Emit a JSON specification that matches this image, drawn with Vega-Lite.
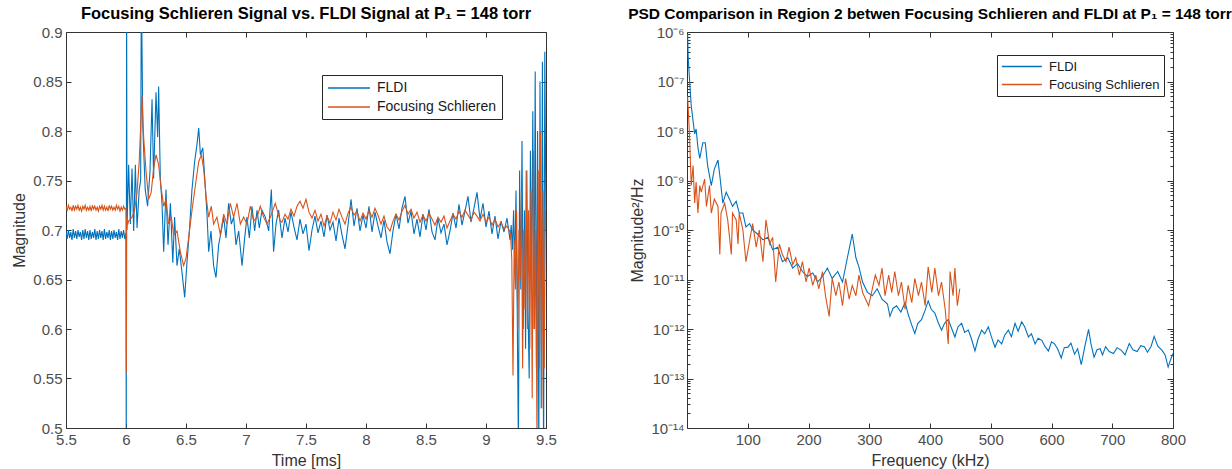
{
"$schema": "https://vega.github.io/schema/vega-lite/v6.json",
"background": "white",
"padding": {"left": 11, "top": 5, "right": 5, "bottom": 5},
"bounds": "flush",
"spacing": 141,
"config": {
  "font": "Liberation Sans",
  "view": {"stroke": "#333333", "strokeWidth": 1},
  "axis": {"domain": false, "grid": false, "tickSize": -5, "tickColor": "#333333", "tickWidth": 1, "labelFontSize": 15, "labelColor": "#4d4d4d", "labelPadding": 9, "titleFontSize": 16, "titleFontWeight": "normal", "titleColor": "#333333", "titlePadding": 5, "labelFlush": false, "labelOverlap": false},
  "title": {"fontSize": 16, "fontWeight": "bold", "color": "#000000", "offset": 3, "limit": 900, "anchor": "middle"}
},
"datasets": {
"sig": [
{"t":5.50,"v":0.699,"s":"FLDI"},{"t":5.51,"v":0.691,"s":"FLDI"},{"t":5.52,"v":0.700,"s":"FLDI"},{"t":5.53,"v":0.692,"s":"FLDI"},{"t":5.54,"v":0.698,"s":"FLDI"},{"t":5.55,"v":0.690,"s":"FLDI"},{"t":5.56,"v":0.701,"s":"FLDI"},{"t":5.57,"v":0.692,"s":"FLDI"},{"t":5.58,"v":0.699,"s":"FLDI"},{"t":5.59,"v":0.691,"s":"FLDI"},
{"t":5.60,"v":0.700,"s":"FLDI"},{"t":5.61,"v":0.693,"s":"FLDI"},{"t":5.62,"v":0.698,"s":"FLDI"},{"t":5.63,"v":0.690,"s":"FLDI"},{"t":5.64,"v":0.700,"s":"FLDI"},{"t":5.65,"v":0.691,"s":"FLDI"},{"t":5.66,"v":0.701,"s":"FLDI"},{"t":5.67,"v":0.692,"s":"FLDI"},{"t":5.68,"v":0.699,"s":"FLDI"},{"t":5.69,"v":0.690,"s":"FLDI"},
{"t":5.70,"v":0.700,"s":"FLDI"},{"t":5.71,"v":0.691,"s":"FLDI"},{"t":5.72,"v":0.698,"s":"FLDI"},{"t":5.73,"v":0.692,"s":"FLDI"},{"t":5.74,"v":0.701,"s":"FLDI"},{"t":5.75,"v":0.690,"s":"FLDI"},{"t":5.76,"v":0.699,"s":"FLDI"},{"t":5.77,"v":0.691,"s":"FLDI"},{"t":5.78,"v":0.700,"s":"FLDI"},{"t":5.79,"v":0.692,"s":"FLDI"},
{"t":5.80,"v":0.699,"s":"FLDI"},{"t":5.81,"v":0.690,"s":"FLDI"},{"t":5.82,"v":0.701,"s":"FLDI"},{"t":5.83,"v":0.691,"s":"FLDI"},{"t":5.84,"v":0.698,"s":"FLDI"},{"t":5.85,"v":0.692,"s":"FLDI"},{"t":5.86,"v":0.700,"s":"FLDI"},{"t":5.87,"v":0.690,"s":"FLDI"},{"t":5.88,"v":0.699,"s":"FLDI"},{"t":5.89,"v":0.691,"s":"FLDI"},
{"t":5.90,"v":0.700,"s":"FLDI"},{"t":5.91,"v":0.692,"s":"FLDI"},{"t":5.92,"v":0.698,"s":"FLDI"},{"t":5.93,"v":0.690,"s":"FLDI"},{"t":5.94,"v":0.701,"s":"FLDI"},{"t":5.95,"v":0.691,"s":"FLDI"},{"t":5.96,"v":0.699,"s":"FLDI"},{"t":5.97,"v":0.692,"s":"FLDI"},{"t":5.98,"v":0.700,"s":"FLDI"},{"t":5.99,"v":0.691,"s":"FLDI"},
{"t":6.000,"v":0.697,"s":"FLDI"},{"t":6.002,"v":0.45,"s":"FLDI"},{"t":6.005,"v":0.95,"s":"FLDI"},{"t":6.008,"v":0.700,"s":"FLDI"},{"t":6.022,"v":0.766,"s":"FLDI"},{"t":6.036,"v":0.706,"s":"FLDI"},{"t":6.050,"v":0.762,"s":"FLDI"},{"t":6.064,"v":0.699,"s":"FLDI"},{"t":6.078,"v":0.766,"s":"FLDI"},{"t":6.092,"v":0.702,"s":"FLDI"},
{"t":6.110,"v":0.741,"s":"FLDI"},{"t":6.122,"v":0.750,"s":"FLDI"},{"t":6.128,"v":0.95,"s":"FLDI"},{"t":6.140,"v":0.804,"s":"FLDI"},{"t":6.160,"v":0.741,"s":"FLDI"},{"t":6.180,"v":0.724,"s":"FLDI"},{"t":6.200,"v":0.759,"s":"FLDI"},{"t":6.217,"v":0.832,"s":"FLDI"},{"t":6.230,"v":0.752,"s":"FLDI"},{"t":6.250,"v":0.839,"s":"FLDI"},
{"t":6.264,"v":0.794,"s":"FLDI"},{"t":6.272,"v":0.845,"s":"FLDI"},{"t":6.286,"v":0.752,"s":"FLDI"},{"t":6.300,"v":0.727,"s":"FLDI"},{"t":6.314,"v":0.678,"s":"FLDI"},{"t":6.333,"v":0.741,"s":"FLDI"},{"t":6.350,"v":0.685,"s":"FLDI"},{"t":6.370,"v":0.727,"s":"FLDI"},{"t":6.390,"v":0.667,"s":"FLDI"},{"t":6.405,"v":0.713,"s":"FLDI"},
{"t":6.425,"v":0.664,"s":"FLDI"},{"t":6.444,"v":0.681,"s":"FLDI"},{"t":6.467,"v":0.657,"s":"FLDI"},{"t":6.489,"v":0.632,"s":"FLDI"},{"t":6.508,"v":0.667,"s":"FLDI"},{"t":6.528,"v":0.699,"s":"FLDI"},{"t":6.550,"v":0.741,"s":"FLDI"},{"t":6.572,"v":0.769,"s":"FLDI"},{"t":6.592,"v":0.787,"s":"FLDI"},{"t":6.606,"v":0.803,"s":"FLDI"},
{"t":6.620,"v":0.776,"s":"FLDI"},{"t":6.640,"v":0.783,"s":"FLDI"},{"t":6.655,"v":0.755,"s":"FLDI"},{"t":6.675,"v":0.716,"s":"FLDI"},{"t":6.689,"v":0.678,"s":"FLDI"},{"t":6.708,"v":0.699,"s":"FLDI"},{"t":6.730,"v":0.664,"s":"FLDI"},{"t":6.750,"v":0.652,"s":"FLDI"},{"t":6.772,"v":0.685,"s":"FLDI"},{"t":6.794,"v":0.699,"s":"FLDI"},
{"t":6.814,"v":0.713,"s":"FLDI"},{"t":6.833,"v":0.692,"s":"FLDI"},{"t":6.855,"v":0.727,"s":"FLDI"},{"t":6.878,"v":0.706,"s":"FLDI"},{"t":6.897,"v":0.713,"s":"FLDI"},{"t":6.917,"v":0.685,"s":"FLDI"},{"t":6.939,"v":0.699,"s":"FLDI"},{"t":6.967,"v":0.664,"s":"FLDI"},{"t":6.989,"v":0.692,"s":"FLDI"},{"t":7.008,"v":0.713,"s":"FLDI"},
{"t":7.028,"v":0.692,"s":"FLDI"},{"t":7.050,"v":0.724,"s":"FLDI"},{"t":7.072,"v":0.699,"s":"FLDI"},{"t":7.092,"v":0.720,"s":"FLDI"},{"t":7.111,"v":0.702,"s":"FLDI"},{"t":7.133,"v":0.720,"s":"FLDI"},{"t":7.161,"v":0.713,"s":"FLDI"},{"t":7.189,"v":0.699,"s":"FLDI"},{"t":7.211,"v":0.741,"s":"FLDI"},{"t":7.230,"v":0.678,"s":"FLDI"},
{"t":7.250,"v":0.706,"s":"FLDI"},{"t":7.272,"v":0.720,"s":"FLDI"},{"t":7.300,"v":0.692,"s":"FLDI"},{"t":7.325,"v":0.712,"s":"FLDI"},{"t":7.350,"v":0.698,"s":"FLDI"},{"t":7.375,"v":0.718,"s":"FLDI"},{"t":7.400,"v":0.703,"s":"FLDI"},{"t":7.425,"v":0.690,"s":"FLDI"},{"t":7.450,"v":0.711,"s":"FLDI"},{"t":7.475,"v":0.696,"s":"FLDI"},
{"t":7.500,"v":0.706,"s":"FLDI"},{"t":7.525,"v":0.679,"s":"FLDI"},{"t":7.550,"v":0.700,"s":"FLDI"},{"t":7.575,"v":0.714,"s":"FLDI"},{"t":7.600,"v":0.697,"s":"FLDI"},{"t":7.625,"v":0.709,"s":"FLDI"},{"t":7.650,"v":0.693,"s":"FLDI"},{"t":7.675,"v":0.715,"s":"FLDI"},{"t":7.700,"v":0.700,"s":"FLDI"},{"t":7.725,"v":0.708,"s":"FLDI"},
{"t":7.750,"v":0.689,"s":"FLDI"},{"t":7.775,"v":0.712,"s":"FLDI"},{"t":7.800,"v":0.695,"s":"FLDI"},{"t":7.825,"v":0.681,"s":"FLDI"},{"t":7.850,"v":0.705,"s":"FLDI"},{"t":7.875,"v":0.731,"s":"FLDI"},{"t":7.900,"v":0.704,"s":"FLDI"},{"t":7.925,"v":0.722,"s":"FLDI"},{"t":7.950,"v":0.699,"s":"FLDI"},{"t":7.975,"v":0.715,"s":"FLDI"},
{"t":8.000,"v":0.702,"s":"FLDI"},{"t":8.025,"v":0.724,"s":"FLDI"},{"t":8.050,"v":0.698,"s":"FLDI"},{"t":8.075,"v":0.718,"s":"FLDI"},{"t":8.100,"v":0.704,"s":"FLDI"},{"t":8.125,"v":0.692,"s":"FLDI"},{"t":8.150,"v":0.710,"s":"FLDI"},{"t":8.175,"v":0.688,"s":"FLDI"},{"t":8.200,"v":0.676,"s":"FLDI"},{"t":8.225,"v":0.699,"s":"FLDI"},
{"t":8.250,"v":0.716,"s":"FLDI"},{"t":8.275,"v":0.701,"s":"FLDI"},{"t":8.300,"v":0.722,"s":"FLDI"},{"t":8.325,"v":0.734,"s":"FLDI"},{"t":8.350,"v":0.707,"s":"FLDI"},{"t":8.375,"v":0.719,"s":"FLDI"},{"t":8.400,"v":0.696,"s":"FLDI"},{"t":8.425,"v":0.711,"s":"FLDI"},{"t":8.450,"v":0.693,"s":"FLDI"},{"t":8.475,"v":0.716,"s":"FLDI"},
{"t":8.500,"v":0.700,"s":"FLDI"},{"t":8.525,"v":0.721,"s":"FLDI"},{"t":8.550,"v":0.698,"s":"FLDI"},{"t":8.575,"v":0.690,"s":"FLDI"},{"t":8.600,"v":0.712,"s":"FLDI"},{"t":8.625,"v":0.697,"s":"FLDI"},{"t":8.650,"v":0.706,"s":"FLDI"},{"t":8.675,"v":0.685,"s":"FLDI"},{"t":8.700,"v":0.699,"s":"FLDI"},{"t":8.725,"v":0.717,"s":"FLDI"},
{"t":8.750,"v":0.702,"s":"FLDI"},{"t":8.775,"v":0.726,"s":"FLDI"},{"t":8.800,"v":0.705,"s":"FLDI"},{"t":8.825,"v":0.719,"s":"FLDI"},{"t":8.850,"v":0.734,"s":"FLDI"},{"t":8.875,"v":0.708,"s":"FLDI"},{"t":8.900,"v":0.722,"s":"FLDI"},{"t":8.925,"v":0.738,"s":"FLDI"},{"t":8.950,"v":0.711,"s":"FLDI"},{"t":8.975,"v":0.727,"s":"FLDI"},
{"t":9.000,"v":0.703,"s":"FLDI"},{"t":9.025,"v":0.719,"s":"FLDI"},{"t":9.050,"v":0.696,"s":"FLDI"},{"t":9.075,"v":0.714,"s":"FLDI"},{"t":9.100,"v":0.691,"s":"FLDI"},{"t":9.125,"v":0.709,"s":"FLDI"},{"t":9.150,"v":0.698,"s":"FLDI"},{"t":9.175,"v":0.712,"s":"FLDI"},{"t":9.200,"v":0.690,"s":"FLDI"},
{"t":9.210,"v":0.705,"s":"FLDI"},{"t":9.220,"v":0.680,"s":"FLDI"},{"t":9.230,"v":0.720,"s":"FLDI"},{"t":9.240,"v":0.660,"s":"FLDI"},{"t":9.250,"v":0.740,"s":"FLDI"},{"t":9.260,"v":0.620,"s":"FLDI"},{"t":9.270,"v":0.480,"s":"FLDI"},{"t":9.280,"v":0.760,"s":"FLDI"},{"t":9.290,"v":0.640,"s":"FLDI"},{"t":9.300,"v":0.790,"s":"FLDI"},
{"t":9.310,"v":0.600,"s":"FLDI"},{"t":9.320,"v":0.720,"s":"FLDI"},{"t":9.330,"v":0.580,"s":"FLDI"},{"t":9.340,"v":0.760,"s":"FLDI"},{"t":9.350,"v":0.620,"s":"FLDI"},{"t":9.360,"v":0.550,"s":"FLDI"},{"t":9.370,"v":0.780,"s":"FLDI"},{"t":9.380,"v":0.640,"s":"FLDI"},{"t":9.390,"v":0.820,"s":"FLDI"},{"t":9.400,"v":0.600,"s":"FLDI"},
{"t":9.410,"v":0.860,"s":"FLDI"},{"t":9.420,"v":0.560,"s":"FLDI"},{"t":9.430,"v":0.800,"s":"FLDI"},{"t":9.440,"v":0.470,"s":"FLDI"},{"t":9.450,"v":0.850,"s":"FLDI"},{"t":9.460,"v":0.520,"s":"FLDI"},{"t":9.470,"v":0.870,"s":"FLDI"},{"t":9.480,"v":0.460,"s":"FLDI"},{"t":9.490,"v":0.880,"s":"FLDI"},{"t":9.500,"v":0.700,"s":"FLDI"},
{"t":5.50,"v":0.724,"s":"Focusing Schlieren"},{"t":5.51,"v":0.720,"s":"Focusing Schlieren"},{"t":5.52,"v":0.725,"s":"Focusing Schlieren"},{"t":5.53,"v":0.721,"s":"Focusing Schlieren"},{"t":5.54,"v":0.723,"s":"Focusing Schlieren"},{"t":5.55,"v":0.719,"s":"Focusing Schlieren"},{"t":5.56,"v":0.725,"s":"Focusing Schlieren"},{"t":5.57,"v":0.720,"s":"Focusing Schlieren"},{"t":5.58,"v":0.724,"s":"Focusing Schlieren"},{"t":5.59,"v":0.721,"s":"Focusing Schlieren"},
{"t":5.60,"v":0.725,"s":"Focusing Schlieren"},{"t":5.61,"v":0.720,"s":"Focusing Schlieren"},{"t":5.62,"v":0.723,"s":"Focusing Schlieren"},{"t":5.63,"v":0.719,"s":"Focusing Schlieren"},{"t":5.64,"v":0.724,"s":"Focusing Schlieren"},{"t":5.65,"v":0.721,"s":"Focusing Schlieren"},{"t":5.66,"v":0.725,"s":"Focusing Schlieren"},{"t":5.67,"v":0.720,"s":"Focusing Schlieren"},{"t":5.68,"v":0.723,"s":"Focusing Schlieren"},{"t":5.69,"v":0.720,"s":"Focusing Schlieren"},
{"t":5.70,"v":0.724,"s":"Focusing Schlieren"},{"t":5.71,"v":0.719,"s":"Focusing Schlieren"},{"t":5.72,"v":0.725,"s":"Focusing Schlieren"},{"t":5.73,"v":0.721,"s":"Focusing Schlieren"},{"t":5.74,"v":0.724,"s":"Focusing Schlieren"},{"t":5.75,"v":0.720,"s":"Focusing Schlieren"},{"t":5.76,"v":0.723,"s":"Focusing Schlieren"},{"t":5.77,"v":0.719,"s":"Focusing Schlieren"},{"t":5.78,"v":0.724,"s":"Focusing Schlieren"},{"t":5.79,"v":0.721,"s":"Focusing Schlieren"},
{"t":5.80,"v":0.725,"s":"Focusing Schlieren"},{"t":5.81,"v":0.720,"s":"Focusing Schlieren"},{"t":5.82,"v":0.724,"s":"Focusing Schlieren"},{"t":5.83,"v":0.720,"s":"Focusing Schlieren"},{"t":5.84,"v":0.723,"s":"Focusing Schlieren"},{"t":5.85,"v":0.719,"s":"Focusing Schlieren"},{"t":5.86,"v":0.725,"s":"Focusing Schlieren"},{"t":5.87,"v":0.721,"s":"Focusing Schlieren"},{"t":5.88,"v":0.724,"s":"Focusing Schlieren"},{"t":5.89,"v":0.720,"s":"Focusing Schlieren"},
{"t":5.90,"v":0.723,"s":"Focusing Schlieren"},{"t":5.91,"v":0.720,"s":"Focusing Schlieren"},{"t":5.92,"v":0.725,"s":"Focusing Schlieren"},{"t":5.93,"v":0.721,"s":"Focusing Schlieren"},{"t":5.94,"v":0.724,"s":"Focusing Schlieren"},{"t":5.95,"v":0.719,"s":"Focusing Schlieren"},{"t":5.96,"v":0.723,"s":"Focusing Schlieren"},{"t":5.97,"v":0.720,"s":"Focusing Schlieren"},{"t":5.98,"v":0.724,"s":"Focusing Schlieren"},{"t":5.99,"v":0.721,"s":"Focusing Schlieren"},
{"t":6.000,"v":0.722,"s":"Focusing Schlieren"},{"t":6.003,"v":0.556,"s":"Focusing Schlieren"},{"t":6.006,"v":0.712,"s":"Focusing Schlieren"},{"t":6.012,"v":0.705,"s":"Focusing Schlieren"},{"t":6.022,"v":0.709,"s":"Focusing Schlieren"},{"t":6.050,"v":0.713,"s":"Focusing Schlieren"},{"t":6.072,"v":0.720,"s":"Focusing Schlieren"},{"t":6.092,"v":0.738,"s":"Focusing Schlieren"},{"t":6.110,"v":0.769,"s":"Focusing Schlieren"},{"t":6.133,"v":0.836,"s":"Focusing Schlieren"},
{"t":6.147,"v":0.794,"s":"Focusing Schlieren"},{"t":6.167,"v":0.759,"s":"Focusing Schlieren"},{"t":6.189,"v":0.731,"s":"Focusing Schlieren"},{"t":6.210,"v":0.738,"s":"Focusing Schlieren"},{"t":6.230,"v":0.762,"s":"Focusing Schlieren"},{"t":6.250,"v":0.776,"s":"Focusing Schlieren"},{"t":6.272,"v":0.766,"s":"Focusing Schlieren"},{"t":6.290,"v":0.745,"s":"Focusing Schlieren"},{"t":6.314,"v":0.724,"s":"Focusing Schlieren"},{"t":6.333,"v":0.731,"s":"Focusing Schlieren"},
{"t":6.355,"v":0.706,"s":"Focusing Schlieren"},{"t":6.378,"v":0.713,"s":"Focusing Schlieren"},{"t":6.397,"v":0.695,"s":"Focusing Schlieren"},{"t":6.425,"v":0.699,"s":"Focusing Schlieren"},{"t":6.453,"v":0.678,"s":"Focusing Schlieren"},{"t":6.480,"v":0.664,"s":"Focusing Schlieren"},{"t":6.500,"v":0.671,"s":"Focusing Schlieren"},{"t":6.522,"v":0.692,"s":"Focusing Schlieren"},{"t":6.550,"v":0.720,"s":"Focusing Schlieren"},{"t":6.578,"v":0.745,"s":"Focusing Schlieren"},
{"t":6.606,"v":0.769,"s":"Focusing Schlieren"},{"t":6.628,"v":0.776,"s":"Focusing Schlieren"},{"t":6.647,"v":0.762,"s":"Focusing Schlieren"},{"t":6.667,"v":0.734,"s":"Focusing Schlieren"},{"t":6.689,"v":0.713,"s":"Focusing Schlieren"},{"t":6.711,"v":0.724,"s":"Focusing Schlieren"},{"t":6.730,"v":0.706,"s":"Focusing Schlieren"},{"t":6.758,"v":0.713,"s":"Focusing Schlieren"},{"t":6.786,"v":0.695,"s":"Focusing Schlieren"},{"t":6.814,"v":0.716,"s":"Focusing Schlieren"},
{"t":6.842,"v":0.706,"s":"Focusing Schlieren"},{"t":6.869,"v":0.727,"s":"Focusing Schlieren"},{"t":6.897,"v":0.713,"s":"Focusing Schlieren"},{"t":6.925,"v":0.727,"s":"Focusing Schlieren"},{"t":6.953,"v":0.706,"s":"Focusing Schlieren"},{"t":6.980,"v":0.713,"s":"Focusing Schlieren"},{"t":7.008,"v":0.706,"s":"Focusing Schlieren"},{"t":7.036,"v":0.724,"s":"Focusing Schlieren"},{"t":7.064,"v":0.709,"s":"Focusing Schlieren"},{"t":7.092,"v":0.713,"s":"Focusing Schlieren"},
{"t":7.119,"v":0.724,"s":"Focusing Schlieren"},{"t":7.147,"v":0.713,"s":"Focusing Schlieren"},{"t":7.175,"v":0.706,"s":"Focusing Schlieren"},{"t":7.203,"v":0.713,"s":"Focusing Schlieren"},{"t":7.244,"v":0.727,"s":"Focusing Schlieren"},{"t":7.286,"v":0.709,"s":"Focusing Schlieren"},{"t":7.300,"v":0.708,"s":"Focusing Schlieren"},{"t":7.325,"v":0.716,"s":"Focusing Schlieren"},{"t":7.350,"v":0.711,"s":"Focusing Schlieren"},{"t":7.375,"v":0.721,"s":"Focusing Schlieren"},
{"t":7.400,"v":0.714,"s":"Focusing Schlieren"},{"t":7.425,"v":0.724,"s":"Focusing Schlieren"},{"t":7.450,"v":0.729,"s":"Focusing Schlieren"},{"t":7.475,"v":0.722,"s":"Focusing Schlieren"},{"t":7.500,"v":0.731,"s":"Focusing Schlieren"},{"t":7.525,"v":0.718,"s":"Focusing Schlieren"},{"t":7.550,"v":0.712,"s":"Focusing Schlieren"},{"t":7.575,"v":0.720,"s":"Focusing Schlieren"},{"t":7.600,"v":0.709,"s":"Focusing Schlieren"},{"t":7.625,"v":0.716,"s":"Focusing Schlieren"},
{"t":7.650,"v":0.704,"s":"Focusing Schlieren"},{"t":7.675,"v":0.714,"s":"Focusing Schlieren"},{"t":7.700,"v":0.707,"s":"Focusing Schlieren"},{"t":7.725,"v":0.718,"s":"Focusing Schlieren"},{"t":7.750,"v":0.710,"s":"Focusing Schlieren"},{"t":7.775,"v":0.721,"s":"Focusing Schlieren"},{"t":7.800,"v":0.713,"s":"Focusing Schlieren"},{"t":7.825,"v":0.706,"s":"Focusing Schlieren"},{"t":7.850,"v":0.717,"s":"Focusing Schlieren"},{"t":7.875,"v":0.723,"s":"Focusing Schlieren"},
{"t":7.900,"v":0.715,"s":"Focusing Schlieren"},{"t":7.925,"v":0.719,"s":"Focusing Schlieren"},{"t":7.950,"v":0.709,"s":"Focusing Schlieren"},{"t":7.975,"v":0.717,"s":"Focusing Schlieren"},{"t":8.000,"v":0.711,"s":"Focusing Schlieren"},{"t":8.025,"v":0.720,"s":"Focusing Schlieren"},{"t":8.050,"v":0.713,"s":"Focusing Schlieren"},{"t":8.075,"v":0.722,"s":"Focusing Schlieren"},{"t":8.100,"v":0.715,"s":"Focusing Schlieren"},{"t":8.125,"v":0.706,"s":"Focusing Schlieren"},
{"t":8.150,"v":0.714,"s":"Focusing Schlieren"},{"t":8.175,"v":0.703,"s":"Focusing Schlieren"},{"t":8.200,"v":0.699,"s":"Focusing Schlieren"},{"t":8.225,"v":0.709,"s":"Focusing Schlieren"},{"t":8.250,"v":0.716,"s":"Focusing Schlieren"},{"t":8.275,"v":0.710,"s":"Focusing Schlieren"},{"t":8.300,"v":0.719,"s":"Focusing Schlieren"},{"t":8.325,"v":0.725,"s":"Focusing Schlieren"},{"t":8.350,"v":0.716,"s":"Focusing Schlieren"},{"t":8.375,"v":0.721,"s":"Focusing Schlieren"},
{"t":8.400,"v":0.712,"s":"Focusing Schlieren"},{"t":8.425,"v":0.718,"s":"Focusing Schlieren"},{"t":8.450,"v":0.708,"s":"Focusing Schlieren"},{"t":8.475,"v":0.715,"s":"Focusing Schlieren"},{"t":8.500,"v":0.709,"s":"Focusing Schlieren"},{"t":8.525,"v":0.717,"s":"Focusing Schlieren"},{"t":8.550,"v":0.711,"s":"Focusing Schlieren"},{"t":8.575,"v":0.705,"s":"Focusing Schlieren"},{"t":8.600,"v":0.713,"s":"Focusing Schlieren"},{"t":8.625,"v":0.708,"s":"Focusing Schlieren"},
{"t":8.650,"v":0.714,"s":"Focusing Schlieren"},{"t":8.675,"v":0.702,"s":"Focusing Schlieren"},{"t":8.700,"v":0.709,"s":"Focusing Schlieren"},{"t":8.725,"v":0.716,"s":"Focusing Schlieren"},{"t":8.750,"v":0.711,"s":"Focusing Schlieren"},{"t":8.775,"v":0.719,"s":"Focusing Schlieren"},{"t":8.800,"v":0.713,"s":"Focusing Schlieren"},{"t":8.825,"v":0.720,"s":"Focusing Schlieren"},{"t":8.850,"v":0.715,"s":"Focusing Schlieren"},{"t":8.875,"v":0.710,"s":"Focusing Schlieren"},
{"t":8.900,"v":0.718,"s":"Focusing Schlieren"},{"t":8.925,"v":0.714,"s":"Focusing Schlieren"},{"t":8.950,"v":0.709,"s":"Focusing Schlieren"},{"t":8.975,"v":0.716,"s":"Focusing Schlieren"},{"t":9.000,"v":0.708,"s":"Focusing Schlieren"},{"t":9.025,"v":0.713,"s":"Focusing Schlieren"},{"t":9.050,"v":0.705,"s":"Focusing Schlieren"},{"t":9.075,"v":0.711,"s":"Focusing Schlieren"},{"t":9.100,"v":0.703,"s":"Focusing Schlieren"},{"t":9.125,"v":0.708,"s":"Focusing Schlieren"},
{"t":9.150,"v":0.701,"s":"Focusing Schlieren"},{"t":9.175,"v":0.704,"s":"Focusing Schlieren"},{"t":9.200,"v":0.698,"s":"Focusing Schlieren"},{"t":9.205,"v":0.695,"s":"Focusing Schlieren"},{"t":9.215,"v":0.670,"s":"Focusing Schlieren"},{"t":9.225,"v":0.553,"s":"Focusing Schlieren"},{"t":9.235,"v":0.690,"s":"Focusing Schlieren"},{"t":9.245,"v":0.640,"s":"Focusing Schlieren"},{"t":9.255,"v":0.720,"s":"Focusing Schlieren"},{"t":9.265,"v":0.600,"s":"Focusing Schlieren"},
{"t":9.275,"v":0.700,"s":"Focusing Schlieren"},{"t":9.285,"v":0.650,"s":"Focusing Schlieren"},{"t":9.295,"v":0.740,"s":"Focusing Schlieren"},{"t":9.305,"v":0.560,"s":"Focusing Schlieren"},{"t":9.315,"v":0.700,"s":"Focusing Schlieren"},{"t":9.325,"v":0.620,"s":"Focusing Schlieren"},{"t":9.335,"v":0.760,"s":"Focusing Schlieren"},{"t":9.345,"v":0.600,"s":"Focusing Schlieren"},{"t":9.355,"v":0.720,"s":"Focusing Schlieren"},{"t":9.365,"v":0.580,"s":"Focusing Schlieren"},
{"t":9.375,"v":0.740,"s":"Focusing Schlieren"},{"t":9.385,"v":0.530,"s":"Focusing Schlieren"},{"t":9.395,"v":0.780,"s":"Focusing Schlieren"},{"t":9.405,"v":0.600,"s":"Focusing Schlieren"},{"t":9.415,"v":0.700,"s":"Focusing Schlieren"},{"t":9.425,"v":0.480,"s":"Focusing Schlieren"},{"t":9.435,"v":0.760,"s":"Focusing Schlieren"},{"t":9.445,"v":0.560,"s":"Focusing Schlieren"},{"t":9.455,"v":0.800,"s":"Focusing Schlieren"},{"t":9.465,"v":0.520,"s":"Focusing Schlieren"},
{"t":9.475,"v":0.740,"s":"Focusing Schlieren"},{"t":9.485,"v":0.560,"s":"Focusing Schlieren"},{"t":9.495,"v":0.720,"s":"Focusing Schlieren"}
],
"psd": [
{"f":1,"p":9e-7,"s":"FLDI"},{"f":2,"p":3e-7,"s":"FLDI"},{"f":4,"p":1.2e-7,"s":"FLDI"},{"f":7,"p":3.2e-8,"s":"FLDI"},{"f":10,"p":1.6e-8,"s":"FLDI"},{"f":12.6,"p":8.7e-9,"s":"FLDI"},{"f":15,"p":1.1e-8,"s":"FLDI"},{"f":18,"p":4.6e-9,"s":"FLDI"},{"f":21,"p":2.8e-9,"s":"FLDI"},{"f":26,"p":5.8e-9,"s":"FLDI"},
{"f":30,"p":5.8e-9,"s":"FLDI"},{"f":34,"p":2.0e-9,"s":"FLDI"},{"f":40,"p":7.9e-10,"s":"FLDI"},{"f":45,"p":1.7e-9,"s":"FLDI"},{"f":51,"p":2.6e-9,"s":"FLDI"},{"f":54,"p":1.26e-9,"s":"FLDI"},{"f":59,"p":3.5e-10,"s":"FLDI"},{"f":64.5,"p":5.8e-10,"s":"FLDI"},{"f":70,"p":4.2e-10,"s":"FLDI"},{"f":75,"p":3.0e-10,"s":"FLDI"},
{"f":81,"p":3.8e-10,"s":"FLDI"},{"f":86,"p":2.2e-10,"s":"FLDI"},{"f":92,"p":2.2e-10,"s":"FLDI"},{"f":97,"p":1.15e-10,"s":"FLDI"},{"f":103,"p":1.35e-10,"s":"FLDI"},{"f":108,"p":1.0e-10,"s":"FLDI"},{"f":116,"p":8.3e-11,"s":"FLDI"},{"f":125,"p":6.3e-11,"s":"FLDI"},{"f":133,"p":7.1e-11,"s":"FLDI"},{"f":141,"p":4.0e-11,"s":"FLDI"},
{"f":149,"p":4.5e-11,"s":"FLDI"},{"f":157,"p":2.3e-11,"s":"FLDI"},{"f":166,"p":2.75e-11,"s":"FLDI"},{"f":174,"p":1.7e-11,"s":"FLDI"},{"f":182,"p":2.1e-11,"s":"FLDI"},{"f":190,"p":1.45e-11,"s":"FLDI"},{"f":198,"p":1.15e-11,"s":"FLDI"},{"f":207,"p":1.35e-11,"s":"FLDI"},{"f":215,"p":8.9e-12,"s":"FLDI"},{"f":223,"p":1.15e-11,"s":"FLDI"},
{"f":231,"p":1.7e-11,"s":"FLDI"},{"f":239,"p":1.05e-11,"s":"FLDI"},{"f":248,"p":1.45e-11,"s":"FLDI"},{"f":256,"p":8.9e-12,"s":"FLDI"},{"f":264,"p":2.75e-11,"s":"FLDI"},{"f":272,"p":8.3e-11,"s":"FLDI"},{"f":278,"p":2.75e-11,"s":"FLDI"},{"f":283,"p":1.8e-11,"s":"FLDI"},{"f":289,"p":8.9e-12,"s":"FLDI"},{"f":297,"p":5.5e-12,"s":"FLDI"},
{"f":305,"p":4.7e-12,"s":"FLDI"},{"f":313,"p":6.5e-12,"s":"FLDI"},{"f":321,"p":4.0e-12,"s":"FLDI"},{"f":330,"p":3.2e-12,"s":"FLDI"},{"f":334,"p":1.8e-12,"s":"FLDI"},{"f":339,"p":2.6e-12,"s":"FLDI"},{"f":345,"p":2.95e-12,"s":"FLDI"},{"f":352,"p":2.2e-12,"s":"FLDI"},{"f":359,"p":3.4e-12,"s":"FLDI"},{"f":364,"p":2.0e-12,"s":"FLDI"},
{"f":370,"p":1.2e-12,"s":"FLDI"},{"f":375,"p":8.1e-13,"s":"FLDI"},{"f":380,"p":1.3e-12,"s":"FLDI"},{"f":386,"p":1.55e-12,"s":"FLDI"},{"f":392,"p":2.4e-12,"s":"FLDI"},{"f":397,"p":3.7e-12,"s":"FLDI"},{"f":402,"p":2.5e-12,"s":"FLDI"},{"f":408,"p":2.1e-12,"s":"FLDI"},{"f":413,"p":1.4e-12,"s":"FLDI"},{"f":419,"p":9.5e-13,"s":"FLDI"},
{"f":424,"p":1.3e-12,"s":"FLDI"},{"f":430,"p":1.55e-12,"s":"FLDI"},{"f":436,"p":1.0e-12,"s":"FLDI"},{"f":441,"p":6.9e-13,"s":"FLDI"},{"f":446,"p":1.1e-12,"s":"FLDI"},{"f":452,"p":1.3e-12,"s":"FLDI"},{"f":457,"p":8.5e-13,"s":"FLDI"},{"f":463,"p":9.5e-13,"s":"FLDI"},{"f":468,"p":6.5e-13,"s":"FLDI"},{"f":474,"p":3.6e-13,"s":"FLDI"},
{"f":479,"p":6.2e-13,"s":"FLDI"},{"f":485,"p":9.5e-13,"s":"FLDI"},{"f":490,"p":8.0e-13,"s":"FLDI"},{"f":496,"p":1.1e-12,"s":"FLDI"},{"f":501,"p":7.0e-13,"s":"FLDI"},{"f":507,"p":4.3e-13,"s":"FLDI"},{"f":512,"p":6.0e-13,"s":"FLDI"},{"f":518,"p":5.0e-13,"s":"FLDI"},{"f":523,"p":7.5e-13,"s":"FLDI"},{"f":529,"p":9.5e-13,"s":"FLDI"},
{"f":534,"p":7.0e-13,"s":"FLDI"},{"f":540,"p":1.3e-12,"s":"FLDI"},{"f":545,"p":9.0e-13,"s":"FLDI"},{"f":551,"p":1.4e-12,"s":"FLDI"},{"f":556,"p":1.1e-12,"s":"FLDI"},{"f":562,"p":6.9e-13,"s":"FLDI"},{"f":567,"p":8.0e-13,"s":"FLDI"},{"f":573,"p":5.0e-13,"s":"FLDI"},{"f":578,"p":6.5e-13,"s":"FLDI"},{"f":584,"p":5.9e-13,"s":"FLDI"},
{"f":589,"p":4.5e-13,"s":"FLDI"},{"f":595,"p":3.6e-13,"s":"FLDI"},{"f":600,"p":5.5e-13,"s":"FLDI"},{"f":605,"p":5.0e-13,"s":"FLDI"},{"f":610,"p":4.0e-13,"s":"FLDI"},{"f":616,"p":2.6e-13,"s":"FLDI"},{"f":621,"p":4.2e-13,"s":"FLDI"},{"f":627,"p":4.3e-13,"s":"FLDI"},{"f":632,"p":5.2e-13,"s":"FLDI"},{"f":638,"p":3.1e-13,"s":"FLDI"},
{"f":643,"p":4.0e-13,"s":"FLDI"},{"f":649,"p":1.9e-13,"s":"FLDI"},{"f":655,"p":4.5e-13,"s":"FLDI"},{"f":661,"p":9.8e-13,"s":"FLDI"},{"f":665,"p":5.0e-13,"s":"FLDI"},{"f":670,"p":2.7e-13,"s":"FLDI"},{"f":675,"p":3.8e-13,"s":"FLDI"},{"f":680,"p":4.0e-13,"s":"FLDI"},{"f":684,"p":3.0e-13,"s":"FLDI"},{"f":689,"p":4.4e-13,"s":"FLDI"},
{"f":695,"p":3.5e-13,"s":"FLDI"},{"f":702,"p":3.2e-13,"s":"FLDI"},{"f":708,"p":4.2e-13,"s":"FLDI"},{"f":715,"p":3.7e-13,"s":"FLDI"},{"f":721,"p":3.0e-13,"s":"FLDI"},{"f":728,"p":5.1e-13,"s":"FLDI"},{"f":734,"p":3.8e-13,"s":"FLDI"},{"f":741,"p":3.5e-13,"s":"FLDI"},{"f":747,"p":4.6e-13,"s":"FLDI"},{"f":753,"p":4.4e-13,"s":"FLDI"},
{"f":758,"p":3.4e-13,"s":"FLDI"},{"f":764,"p":4.5e-13,"s":"FLDI"},{"f":769,"p":7.1e-13,"s":"FLDI"},{"f":775,"p":4.5e-13,"s":"FLDI"},{"f":782,"p":3.7e-13,"s":"FLDI"},{"f":787,"p":3.0e-13,"s":"FLDI"},{"f":792,"p":1.7e-13,"s":"FLDI"},{"f":796,"p":2.4e-13,"s":"FLDI"},{"f":800,"p":3.2e-13,"s":"FLDI"},
{"f":1,"p":5e-8,"s":"Focusing Schlieren"},{"f":1.6,"p":3.6e-8,"s":"Focusing Schlieren"},{"f":4,"p":8.7e-9,"s":"Focusing Schlieren"},{"f":7,"p":7.9e-10,"s":"Focusing Schlieren"},{"f":10,"p":2.0e-9,"s":"Focusing Schlieren"},{"f":12.6,"p":3.5e-10,"s":"Focusing Schlieren"},{"f":15,"p":9.3e-10,"s":"Focusing Schlieren"},{"f":18,"p":2.2e-10,"s":"Focusing Schlieren"},{"f":21,"p":7.9e-10,"s":"Focusing Schlieren"},{"f":23.5,"p":5.8e-10,"s":"Focusing Schlieren"},
{"f":29,"p":1.07e-9,"s":"Focusing Schlieren"},{"f":32,"p":3.0e-10,"s":"Focusing Schlieren"},{"f":37,"p":7.9e-10,"s":"Focusing Schlieren"},{"f":40,"p":2.2e-10,"s":"Focusing Schlieren"},{"f":45,"p":4.2e-10,"s":"Focusing Schlieren"},{"f":51,"p":3.0e-10,"s":"Focusing Schlieren"},{"f":54,"p":3.2e-11,"s":"Focusing Schlieren"},{"f":56,"p":2.2e-10,"s":"Focusing Schlieren"},{"f":62,"p":3.5e-10,"s":"Focusing Schlieren"},{"f":67,"p":1.6e-10,"s":"Focusing Schlieren"},
{"f":73,"p":3.2e-11,"s":"Focusing Schlieren"},{"f":75,"p":2.2e-10,"s":"Focusing Schlieren"},{"f":81,"p":1.6e-10,"s":"Focusing Schlieren"},{"f":84,"p":5.2e-11,"s":"Focusing Schlieren"},{"f":86,"p":2.2e-10,"s":"Focusing Schlieren"},{"f":92,"p":1.0e-10,"s":"Focusing Schlieren"},{"f":97,"p":2.3e-11,"s":"Focusing Schlieren"},{"f":103,"p":6.0e-11,"s":"Focusing Schlieren"},{"f":108,"p":1.35e-10,"s":"Focusing Schlieren"},{"f":114,"p":4.5e-11,"s":"Focusing Schlieren"},
{"f":119,"p":1.0e-10,"s":"Focusing Schlieren"},{"f":125,"p":2.3e-11,"s":"Focusing Schlieren"},{"f":130,"p":1.6e-10,"s":"Focusing Schlieren"},{"f":136,"p":5.2e-11,"s":"Focusing Schlieren"},{"f":141,"p":7.1e-11,"s":"Focusing Schlieren"},{"f":146,"p":8.9e-12,"s":"Focusing Schlieren"},{"f":152,"p":5.2e-11,"s":"Focusing Schlieren"},{"f":157,"p":3.2e-11,"s":"Focusing Schlieren"},{"f":163,"p":2.3e-11,"s":"Focusing Schlieren"},{"f":168,"p":4.5e-11,"s":"Focusing Schlieren"},
{"f":174,"p":2.0e-11,"s":"Focusing Schlieren"},{"f":179,"p":2.75e-11,"s":"Focusing Schlieren"},{"f":185,"p":1.23e-11,"s":"Focusing Schlieren"},{"f":190,"p":2.3e-11,"s":"Focusing Schlieren"},{"f":196,"p":8.9e-12,"s":"Focusing Schlieren"},{"f":201,"p":1.7e-11,"s":"Focusing Schlieren"},{"f":207,"p":7.6e-12,"s":"Focusing Schlieren"},{"f":212,"p":1.23e-11,"s":"Focusing Schlieren"},{"f":217,"p":6.5e-12,"s":"Focusing Schlieren"},{"f":223,"p":1.45e-11,"s":"Focusing Schlieren"},
{"f":228,"p":4.7e-12,"s":"Focusing Schlieren"},{"f":234,"p":1.8e-12,"s":"Focusing Schlieren"},{"f":239,"p":1.05e-11,"s":"Focusing Schlieren"},{"f":245,"p":4.7e-12,"s":"Focusing Schlieren"},{"f":250,"p":8.9e-12,"s":"Focusing Schlieren"},{"f":256,"p":2.95e-12,"s":"Focusing Schlieren"},{"f":261,"p":1.05e-11,"s":"Focusing Schlieren"},{"f":267,"p":4.0e-12,"s":"Focusing Schlieren"},{"f":272,"p":7.6e-12,"s":"Focusing Schlieren"},{"f":278,"p":4.7e-12,"s":"Focusing Schlieren"},
{"f":283,"p":1.23e-11,"s":"Focusing Schlieren"},{"f":289,"p":5.5e-12,"s":"Focusing Schlieren"},{"f":294,"p":4.0e-12,"s":"Focusing Schlieren"},{"f":299,"p":2.95e-12,"s":"Focusing Schlieren"},{"f":305,"p":6.5e-12,"s":"Focusing Schlieren"},{"f":310,"p":1.23e-11,"s":"Focusing Schlieren"},{"f":316,"p":7.6e-12,"s":"Focusing Schlieren"},{"f":321,"p":1.7e-11,"s":"Focusing Schlieren"},{"f":326,"p":4.7e-12,"s":"Focusing Schlieren"},{"f":332,"p":1.23e-11,"s":"Focusing Schlieren"},
{"f":337,"p":5.5e-12,"s":"Focusing Schlieren"},{"f":342,"p":1.45e-11,"s":"Focusing Schlieren"},{"f":348,"p":4.7e-12,"s":"Focusing Schlieren"},{"f":353,"p":8.9e-12,"s":"Focusing Schlieren"},{"f":359,"p":2.5e-12,"s":"Focusing Schlieren"},{"f":364,"p":7.6e-12,"s":"Focusing Schlieren"},{"f":370,"p":3.4e-12,"s":"Focusing Schlieren"},{"f":375,"p":1.05e-11,"s":"Focusing Schlieren"},{"f":381,"p":4.7e-12,"s":"Focusing Schlieren"},{"f":386,"p":8.9e-12,"s":"Focusing Schlieren"},
{"f":392,"p":2.95e-12,"s":"Focusing Schlieren"},{"f":397,"p":1.8e-11,"s":"Focusing Schlieren"},{"f":403,"p":5.5e-12,"s":"Focusing Schlieren"},{"f":408,"p":1.7e-11,"s":"Focusing Schlieren"},{"f":414,"p":4.7e-12,"s":"Focusing Schlieren"},{"f":419,"p":8.9e-12,"s":"Focusing Schlieren"},{"f":425,"p":2.5e-12,"s":"Focusing Schlieren"},{"f":430,"p":5.0e-13,"s":"Focusing Schlieren"},{"f":433,"p":1.45e-11,"s":"Focusing Schlieren"},{"f":438,"p":4.7e-12,"s":"Focusing Schlieren"},
{"f":441,"p":1.7e-11,"s":"Focusing Schlieren"},{"f":445,"p":2.95e-12,"s":"Focusing Schlieren"},{"f":449,"p":6.5e-12,"s":"Focusing Schlieren"}
]
},
"hconcat": [
{
  "width": 480, "height": 396,
  "title": {"text": "Focusing Schlieren Signal vs. FLDI Signal at P₁ = 148 torr", "fontSize": 16.5},
  "data": {"name": "sig"},
  "layer": [
    {"mark": {"type": "line", "clip": true, "strokeWidth": 1.1},
     "encoding": {
       "x": {"field": "t", "type": "quantitative", "scale": {"domain": [5.5, 9.5], "nice": false, "zero": false},
             "axis": {"title": "Time [ms]", "values": [5.5, 6, 6.5, 7, 7.5, 8, 8.5, 9, 9.5], "labelExpr": "format(datum.value, '~g')"}},
       "y": {"field": "v", "type": "quantitative", "scale": {"domain": [0.5, 0.9], "nice": false, "zero": false},
             "axis": {"title": "Magnitude", "values": [0.5, 0.55, 0.6, 0.65, 0.7, 0.75, 0.8, 0.85, 0.9], "labelExpr": "format(datum.value, '~g')"}},
       "color": {"field": "s", "type": "nominal",
                 "scale": {"domain": ["FLDI", "Focusing Schlieren"], "range": ["#0072BD", "#D95319"]},
                 "legend": {"title": null, "orient": "none", "legendX": 256, "legendY": 43, "strokeColor": "#262626", "fillColor": "white", "padding": 5, "symbolType": "M-1,0H5", "symbolSize": 196, "symbolStrokeWidth": 1.5, "labelFontSize": 14, "labelColor": "#1a1a1a", "labelOffset": 34, "rowPadding": 4, "labelLimit": 300}}
     }},
    {"mark": {"type": "line", "clip": true, "opacity": 0},
     "encoding": {
       "x": {"field": "t", "type": "quantitative", "scale": {"domain": [5.5, 9.5], "nice": false, "zero": false},
             "axis": {"orient": "top", "title": null, "labels": false, "values": [5.5, 6, 6.5, 7, 7.5, 8, 8.5, 9, 9.5]}},
       "y": {"field": "v", "type": "quantitative", "scale": {"domain": [0.5, 0.9], "nice": false, "zero": false},
             "axis": {"orient": "right", "title": null, "labels": false, "values": [0.5, 0.55, 0.6, 0.65, 0.7, 0.75, 0.8, 0.85, 0.9]}}
     }}
  ],
  "resolve": {"axis": {"x": "independent", "y": "independent"}}
},
{
  "width": 486, "height": 396,
  "title": {"text": "PSD Comparison in Region 2 betwen Focusing Schlieren and FLDI at P₁ = 148 torr", "fontSize": 15.5},
  "data": {"name": "psd"},
  "layer": [
    {"mark": {"type": "line", "clip": true, "strokeWidth": 1.1},
     "encoding": {
       "x": {"field": "f", "type": "quantitative", "scale": {"domain": [0, 800], "nice": false, "zero": false},
             "axis": {"title": "Frequency (kHz)", "values": [100, 200, 300, 400, 500, 600, 700, 800]}},
       "y": {"field": "p", "type": "quantitative", "scale": {"type": "log", "domain": [1e-14, 1e-6], "nice": false},
             "axis": {"title": "Magnitude²/Hz",
                      "values": [1e-14,2e-14,3e-14,4e-14,5e-14,6e-14,7e-14,8e-14,9e-14,1e-13,2e-13,3e-13,4e-13,5e-13,6e-13,7e-13,8e-13,9e-13,1e-12,2e-12,3e-12,4e-12,5e-12,6e-12,7e-12,8e-12,9e-12,1e-11,2e-11,3e-11,4e-11,5e-11,6e-11,7e-11,8e-11,9e-11,1e-10,2e-10,3e-10,4e-10,5e-10,6e-10,7e-10,8e-10,9e-10,1e-9,2e-9,3e-9,4e-9,5e-9,6e-9,7e-9,8e-9,9e-9,1e-8,2e-8,3e-8,4e-8,5e-8,6e-8,7e-8,8e-8,9e-8,1e-7,2e-7,3e-7,4e-7,5e-7,6e-7,7e-7,8e-7,9e-7,1e-6],
                      "tickSize": {"condition": {"test": "abs(log(datum.value)/LN10 - round(log(datum.value)/LN10)) > 0.001", "value": -3}, "value": -6},
                      "labelExpr": "abs(log(datum.value)/LN10 - round(log(datum.value)/LN10)) > 0.001 ? '' : '10⁻' + (round(-log(datum.value)/LN10) >= 10 ? '¹' : '') + substring('⁰¹²³⁴⁵⁶⁷⁸⁹', round(-log(datum.value)/LN10) % 10, round(-log(datum.value)/LN10) % 10 + 1)"}},
       "color": {"field": "s", "type": "nominal",
                 "scale": {"domain": ["FLDI", "Focusing Schlieren"], "range": ["#0072BD", "#D95319"]},
                 "legend": {"title": null, "orient": "none", "legendX": 310, "legendY": 23, "strokeColor": "#262626", "fillColor": "white", "padding": 4, "symbolType": "M-1,0H5", "symbolSize": 178, "symbolStrokeWidth": 1.5, "labelFontSize": 13, "labelColor": "#1a1a1a", "labelOffset": 33, "rowPadding": 3, "labelLimit": 300}}
     }},
    {"mark": {"type": "line", "clip": true, "opacity": 0},
     "encoding": {
       "x": {"field": "f", "type": "quantitative", "scale": {"domain": [0, 800], "nice": false, "zero": false},
             "axis": {"orient": "top", "title": null, "labels": false, "values": [100, 200, 300, 400, 500, 600, 700, 800]}},
       "y": {"field": "p", "type": "quantitative", "scale": {"type": "log", "domain": [1e-14, 1e-6], "nice": false},
             "axis": {"orient": "right", "title": null, "labels": false,
                      "values": [1e-14,2e-14,3e-14,4e-14,5e-14,6e-14,7e-14,8e-14,9e-14,1e-13,2e-13,3e-13,4e-13,5e-13,6e-13,7e-13,8e-13,9e-13,1e-12,2e-12,3e-12,4e-12,5e-12,6e-12,7e-12,8e-12,9e-12,1e-11,2e-11,3e-11,4e-11,5e-11,6e-11,7e-11,8e-11,9e-11,1e-10,2e-10,3e-10,4e-10,5e-10,6e-10,7e-10,8e-10,9e-10,1e-9,2e-9,3e-9,4e-9,5e-9,6e-9,7e-9,8e-9,9e-9,1e-8,2e-8,3e-8,4e-8,5e-8,6e-8,7e-8,8e-8,9e-8,1e-7,2e-7,3e-7,4e-7,5e-7,6e-7,7e-7,8e-7,9e-7,1e-6],
                      "tickSize": {"condition": {"test": "abs(log(datum.value)/LN10 - round(log(datum.value)/LN10)) > 0.001", "value": -3}, "value": -6}}}
     }}
  ],
  "resolve": {"axis": {"x": "independent", "y": "independent"}}
}
],
"resolve": {"legend": {"color": "independent"}, "scale": {"color": "independent"}}
}
